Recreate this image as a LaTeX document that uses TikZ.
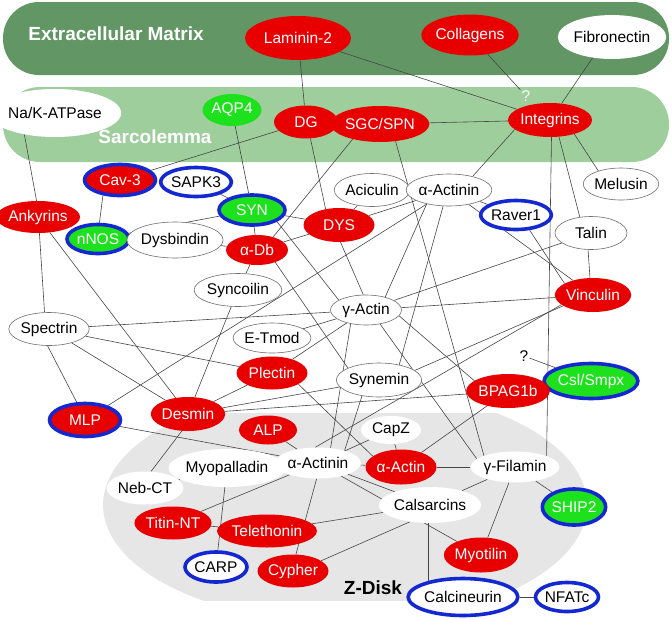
\documentclass[tikz,border=0pt]{standalone}
\usepackage{fontspec}
\setmainfont{Liberation Sans}
\usetikzlibrary{shapes.geometric}
\definecolor{nred}{RGB}{232,0,0}
\definecolor{ngreen}{RGB}{30,225,30}
\definecolor{nblue}{RGB}{20,40,210}
\definecolor{ecm}{RGB}{98,151,101}
\definecolor{sarc}{RGB}{158,206,156}
\definecolor{zgray}{RGB}{230,230,230}
\definecolor{edgec}{RGB}{70,70,70}
\definecolor{wborder}{RGB}{110,110,110}
\pgfdeclarelayer{back}
\pgfdeclarelayer{edges}
\pgfsetlayers{back,edges,main}
\newcommand{\nodefont}{\fontsize{15.5}{16}\selectfont}
\newcommand{\bandfont}{\fontsize{19}{20}\selectfont\bfseries}
\tikzset{
  nd/.style={ellipse, inner sep=0pt, font=\nodefont},
  sz/.style 2 args={minimum width=#1, minimum height=#2},
  rnode/.style={nd, fill=nred, text=white},
  gnode/.style={nd, fill=ngreen, text=white},
  wnode/.style={nd, fill=white, draw=wborder, line width=0.6pt, text=black},
  pnode/.style={nd, fill=white, text=black},
  bl/.style={draw=nblue, line width=3.6pt},
  edge/.style={draw=edgec, line width=0.6pt},
  qmark/.style={inner sep=1pt, font=\nodefont},
  bandlabel/.style={inner sep=0pt, font=\bandfont, text=white}
}
\begin{document}
\begin{tikzpicture}[x=1pt,y=-1pt]
\useasboundingbox (0,0) rectangle (672,619);
% nodes
\node[rnode, sz={106}{44}] (lam) at (298,38) {Laminin-2};
\node[rnode, sz={77}{41}] (coll) at (470,35) {Collagens};
\node[pnode, sz={82}{44}] (fib) at (612,37) {Fibronectin};
\node[rnode, sz={83}{34}] (integ) at (550,120) {Integrins};
\node[wnode, sz={64}{32}] (mel) at (621,184) {Melusin};
\node[pnode, sz={100}{48}] (nak) at (55,113) {Na/K-ATPase};
\node[gnode, sz={59}{32}] (aqp) at (232,110) {AQP4};
\node[rnode, sz={64}{33}] (dg) at (306,122) {DG};
\node[rnode, sz={78}{36}] (sgc) at (380,124) {SGC/SPN};
\node[qmark, text=white] (qw) at (526,96) {?};
\node[rnode, bl, sz={71}{31}] (cav) at (120,180) {Cav-3};
\node[pnode, bl, sz={63}{29}] (sapk) at (196,182) {SAPK3};
\node[gnode, bl, sz={66}{30}] (syn) at (252,210) {SYN};
\node[rnode, sz={70}{32}] (ank) at (38,217) {Ankyrins};
\node[gnode, bl, sz={62}{29}] (nnos) at (98,239) {nNOS};
\node[wnode, sz={77}{36}] (dysb) at (175,240) {Dysbindin};
\node[rnode, sz={62}{30}] (adb) at (257,250) {α-Db};
\node[rnode, sz={71}{34}] (dys) at (339,225) {DYS};
\node[wnode, sz={59}{33}] (aci) at (372,190) {Aciculin};
\node[wnode, sz={71}{32}] (aact) at (449,190) {α-Actinin};
\node[pnode, bl, sz={62}{29}] (raver) at (516,215) {Raver1};
\node[wnode, sz={72}{33}] (talin) at (591,233) {Talin};
\node[rnode, sz={71}{34}] (vinc) at (593,295) {Vinculin};
\node[wnode, sz={71}{30}] (gact) at (366,310) {γ-Actin};
\node[wnode, sz={71}{33}] (sync) at (238,290) {Syncoilin};
\node[wnode, sz={72}{33}] (spec) at (49,329) {Spectrin};
\node[wnode, sz={65}{30}] (etmod) at (272,338) {E-Tmod};
\node[rnode, sz={71}{33}] (plec) at (272,373) {Plectin};
\node[wnode, sz={69}{34}] (synm) at (379,380) {Synemin};
\node[gnode, bl, sz={77}{35}] (csl) at (591,381) {Csl/Smpx};
\node[qmark, text=black] (qb) at (524,356) {?};
\node[rnode, sz={71}{34}] (bpag) at (508,391) {BPAG1b};
\node[rnode, bl, sz={71}{33}] (mlp) at (85,420) {MLP};
\node[rnode, sz={71}{34}] (desm) at (188,414) {Desmin};
\node[rnode, sz={58}{29}] (alp) at (268,430) {ALP};
\node[pnode, sz={60}{28}] (capz) at (391,430) {CapZ};
\node[pnode, sz={72}{31}] (zact) at (318,463) {α-Actinin};
\node[pnode, sz={90}{38}] (myop) at (227,468) {Myopalladin};
\node[rnode, sz={71}{35}] (aactin) at (401,467) {α-Actin};
\node[pnode, sz={85}{31}] (gfil) at (515,467) {γ-Filamin};
\node[pnode, sz={71}{33}] (neb) at (145,488) {Neb-CT};
\node[pnode, sz={78}{36}] (cals) at (430,505) {Calsarcins};
\node[gnode, bl, sz={55}{36}] (ship) at (574,507) {SHIP2};
\node[rnode, sz={71}{33}] (titin) at (173,523) {Titin-NT};
\node[rnode, sz={78}{33}] (tele) at (267,531) {Telethonin};
\node[pnode, bl, sz={62}{30}] (carp) at (216,567) {CARP};
\node[rnode, sz={71}{33}] (cyph) at (293,571) {Cypher};
\node[rnode, sz={72}{35}] (myot) at (481,555) {Myotilin};
\node[pnode, bl, sz={85}{37}] (calc) at (463,597) {Calcineurin};
\node[pnode, bl, sz={63}{29}] (nfat) at (567,597) {NFATc};
% backgrounds
\begin{pgfonlayer}{back}
\fill[ecm, rounded corners=36] (3,2) rectangle (669,75);
\fill[sarc, rounded corners=37] (3,87) rectangle (669,162);
\begin{scope}
\clip (0,413) rectangle (672,600);
\fill[zgray] (345,505) ellipse [x radius=242, y radius=118];
\end{scope}
\node[bandlabel] (ecmlabel) at (116,34) {Extracellular Matrix};
\node[bandlabel] (sarclabel) at (155,137) {Sarcolemma};
\node[bandlabel, text=black] (zlabel) at (373,588) {Z-Disk};
\end{pgfonlayer}
% connectors
\begin{pgfonlayer}{edges}
\draw[edge] (lam) -- (dg);
\draw[edge] (lam) -- (integ);
\draw[edge] (coll) -- (qw);
\draw[edge] (fib.-133) -- (integ.55);
\draw[edge] (sgc) -- (integ);
\draw[edge] (integ.195) -- (aact.30);
\draw[edge] (integ.-30) -- (mel.150);
\draw[edge] (integ.-62) -- (talin.125);
\draw[edge] (integ.-85) -- (gfil.north east);
\draw[edge] (dg) -- (cav);
\draw[edge] (aqp) -- (syn);
\draw[edge] (dg.-75) -- (dys.130);
\draw[edge] (sgc.-151) -- (adb.39);
\draw[edge] (sgc.-48) -- (gfil.160);
\draw[edge] (syn) -- (nnos);
\draw[edge] (cav.-138) -- (nnos.85);
\draw[edge] (sapk) -- (syn);
\draw[edge] (syn) -- (adb);
\draw[edge] (dysb) -- (adb);
\draw[edge] (syn) -- (dys);
\draw[edge] (adb) -- (dys);
\draw[edge] (syn.-25) -- (gact.160);
\draw[edge] (adb.-34) -- (synm.159);
\draw[edge] (dys.-85) -- (gact.100);
\draw[edge] (aci) -- (dys);
\draw[edge] (aact) -- (dys);
\draw[edge] (aact) -- (raver);
\draw[edge] (aact) -- (vinc);
\draw[edge] (raver.-48) -- (vinc.158);
\draw[edge] (talin.-100) -- (vinc.100);
\draw[edge] (aact.-148) -- (gact.34);
\draw[edge] (aact.-110) -- (synm.37);
\draw[edge] (mlp) -- (aact);
\draw[edge] (nak.-145) -- (ank.95);
\draw[edge] (ank.-85) -- (spec.105);
\draw[edge] (ank) -- (desm);
\draw[edge] (spec.-95) -- (mlp.115);
\draw[edge] (spec) -- (desm);
\draw[edge] (spec) -- (plec);
\draw[edge] (spec) -- (gact);
\draw[edge] (gact) -- (vinc);
\draw[edge] (gact) -- (talin);
\draw[edge] (gact) -- (etmod);
\draw[edge] (gact) -- (plec);
\draw[edge] (gact.-138) -- (zact.50);
\draw[edge] (gact.-45) -- (gfil.168);
\draw[edge] (gact.-10) -- (bpag.163);
\draw[edge] (sync) -- (desm);
\draw[edge] (adb) -- (sync);
\draw[edge] (plec) -- (desm);
\draw[edge] (desm) -- (synm);
\draw[edge] (desm) -- (bpag);
\draw[edge] (mlp) -- (zact);
\draw[edge] (desm.-110) -- (neb.70);
\draw[edge] (neb) -- (myop);
\draw[edge] (myop) -- (zact);
\draw[edge] (myop) -- (carp);
\draw[edge] (titin) -- (zact);
\draw[edge] (titin) -- (tele);
\draw[edge] (tele) -- (cals);
\draw[edge] (zact.-95) -- (cyph.80);
\draw[edge] (cyph.20) -- (cals.-140);
\draw[edge] (zact) -- (cals);
\draw[edge] (zact) -- (myot);
\draw[edge] (zact) -- (aactin);
\draw[edge] (capz) -- (zact);
\draw[edge] (capz) -- (aactin);
\draw[edge] (alp) -- (zact);
\draw[edge] (aactin) -- (gfil);
\draw[edge] (aactin) -- (bpag);
\draw[edge] (gfil) -- (cals);
\draw[edge] (gfil) -- (myot);
\draw[edge] (cals.-96) -- (cals.-96 |- calc.center);
\draw[edge] (calc) -- (nfat);
\draw[edge] (gfil) -- (ship);
\draw[edge] (plec.-23) -- (aactin.159);
\draw[edge] (vinc.-160) -- (synm.15);
\draw[edge] (vinc.-163) -- (zact.100);
\draw[edge] (synm.-137) -- (zact.25);
\draw[edge] (qb) -- (csl);
\end{pgfonlayer}
\end{tikzpicture}
\end{document}
